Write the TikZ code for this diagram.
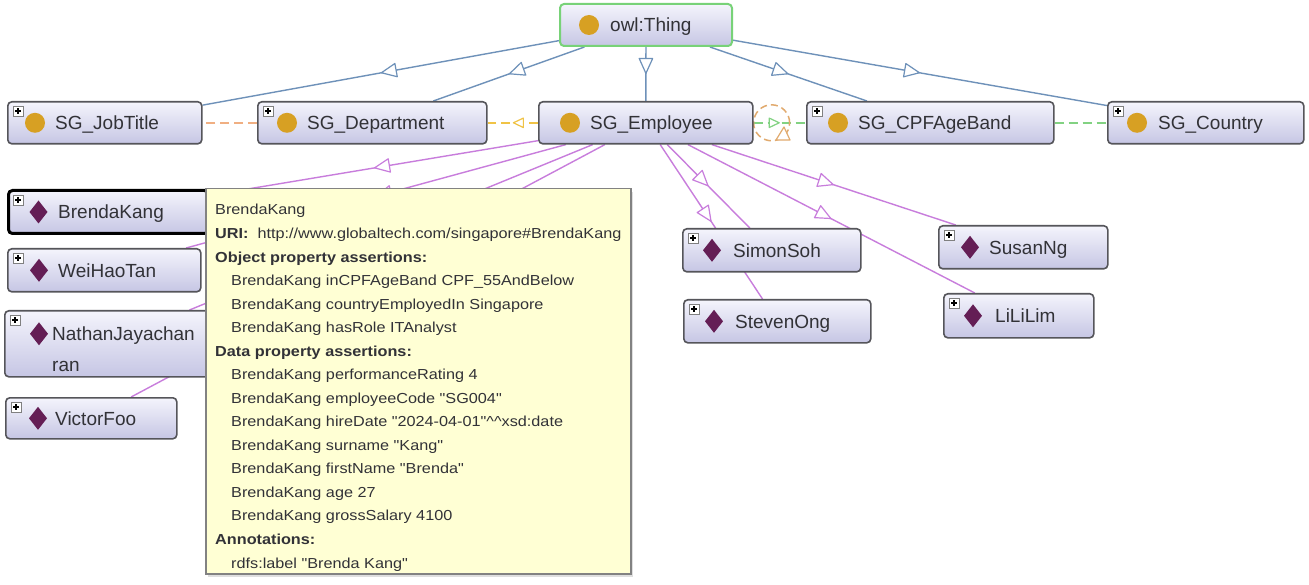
\documentclass[tikz,border=0pt]{standalone}
\usepackage{fontspec}
\setmainfont{Liberation Sans}
\newfontfamily\tipfont{Liberation Sans}[FakeStretch=1.12]
\usetikzlibrary{arrows.meta,decorations.markings,backgrounds,shadows}

\definecolor{edgeblue}{RGB}{110,145,185}
\definecolor{edgepurple}{RGB}{200,125,220}
\definecolor{dashorange}{RGB}{240,175,130}
\definecolor{dashyellow}{RGB}{240,195,70}
\definecolor{dashgreen}{RGB}{130,210,130}
\definecolor{loopbrown}{RGB}{225,170,110}
\definecolor{nodeborder}{RGB}{85,85,90}
\definecolor{nodetop}{RGB}{244,244,252}
\definecolor{nodebot}{RGB}{198,198,228}
\definecolor{thinggreen}{RGB}{120,210,120}
\definecolor{classdot}{RGB}{215,160,35}
\definecolor{indiv}{RGB}{100,30,85}
\definecolor{tipfill}{RGB}{255,255,212}
\definecolor{tipborder}{RGB}{130,130,130}
\definecolor{txt}{RGB}{50,50,55}

\begin{document}
\begin{tikzpicture}[x=1pt,y=-1pt,
  box/.style={draw=nodeborder, line width=1.6pt, rounded corners=4pt, top color=nodetop, bottom color=nodebot, inner sep=0pt, anchor=north west},
  thingbox/.style={box, draw=thinggreen, line width=2pt},
  selbox/.style={box, draw=black, line width=3pt},
  lbl/.style={font=\fontsize{19}{22}\selectfont, text=txt, inner sep=0pt, anchor=base west},
  tipbox/.style={draw=tipborder, line width=1.5pt, fill=tipfill, inner sep=0pt, anchor=north west, drop shadow={shadow xshift=2pt, shadow yshift=-3pt, opacity=0.25}},
  tipline/.style={font=\tipfont\fontsize{14.5}{17}\selectfont, text=txt, inner sep=0pt, anchor=base west},
  midtri/.style={postaction={decorate}, decoration={markings, mark=at position 0.5 with {\arrow{Triangle[length=17pt,width=15pt,fill=white,line width=1.2pt,round]}}}},
  smalltri/.style={postaction={decorate}, decoration={markings, mark=at position 0.5 with {\arrow{Triangle[length=12pt,width=11pt,fill=white,line width=1.2pt,round]}}}},
  subedge/.style={draw=edgeblue, line width=1.4pt, midtri},
  typeedge/.style={draw=edgepurple, line width=1.4pt, midtri},
  propdash/.style={line width=1.6pt, dash pattern=on 9pt off 5pt},
  plusicon/.pic={\draw[fill=white, draw=gray, line width=0.7pt] (0,0) rectangle (10,10);
                 \draw[black, line width=1.1pt] (2.2,5) -- (7.8,5) (5,2.2) -- (5,7.8);},
  indivmark/.pic={\fill[indiv] (0,-11.5) -- (9,0) -- (0,11.5) -- (-9,0) -- cycle;}
]
\useasboundingbox (0,0) rectangle (1309,585);

% ---------- classes ----------
\node[thingbox, minimum width=172pt, minimum height=42pt] (thing) at (559,3) {};
\fill[classdot] ([xshift=30pt]thing.west) circle[radius=10pt];
\node[lbl] (thing-l) at ([xshift=51pt,yshift=-6.8pt]thing.west) {owl:Thing};

\node[box, minimum width=194pt, minimum height=42pt] (job) at (7,101) {};
\pic at ([xshift=6pt,yshift=-5pt]job.north west) {plusicon};
\fill[classdot] ([xshift=28pt]job.west) circle[radius=10pt];
\node[lbl] (job-l) at ([xshift=48pt,yshift=-6.8pt]job.west) {SG\_JobTitle};

\node[box, minimum width=229pt, minimum height=42pt] (dept) at (257,101) {};
\pic at ([xshift=6pt,yshift=-5pt]dept.north west) {plusicon};
\fill[classdot] ([xshift=30pt]dept.west) circle[radius=10pt];
\node[lbl] (dept-l) at ([xshift=50pt,yshift=-6.8pt]dept.west) {SG\_Department};

\node[box, minimum width=214pt, minimum height=42pt] (emp) at (538,101) {};
\fill[classdot] ([xshift=32pt]emp.west) circle[radius=10pt];
\node[lbl] (emp-l) at ([xshift=52pt,yshift=-6.8pt]emp.west) {SG\_Employee};

\node[box, minimum width=247pt, minimum height=42pt] (cpf) at (806,101) {};
\pic at ([xshift=6pt,yshift=-5pt]cpf.north west) {plusicon};
\fill[classdot] ([xshift=32pt]cpf.west) circle[radius=10pt];
\node[lbl] (cpf-l) at ([xshift=52pt,yshift=-6.8pt]cpf.west) {SG\_CPFAgeBand};

\node[box, minimum width=196pt, minimum height=42pt] (country) at (1107,101) {};
\pic at ([xshift=6pt,yshift=-5pt]country.north west) {plusicon};
\fill[classdot] ([xshift=30pt]country.west) circle[radius=10pt];
\node[lbl] (country-l) at ([xshift=51pt,yshift=-6.8pt]country.west) {SG\_Country};

% ---------- individuals ----------
\node[selbox, minimum width=200pt, minimum height=43pt] (brenda) at (7,189) {};
\pic at ([xshift=6pt,yshift=-6pt]brenda.north west) {plusicon};
\pic at ([xshift=31.5pt]brenda.west) {indivmark};
\node[lbl] (brenda-l) at ([xshift=51pt,yshift=-6.8pt]brenda.west) {BrendaKang};

\node[box, minimum width=193pt, minimum height=43pt] (weihao) at (7,248) {};
\pic at ([xshift=6pt,yshift=-5pt]weihao.north west) {plusicon};
\pic at ([xshift=32pt]weihao.west) {indivmark};
\node[lbl] (weihao-l) at ([xshift=51pt,yshift=-6.8pt]weihao.west) {WeiHaoTan};

\node[box, minimum width=205pt, minimum height=66pt] (nathan) at (4,310) {};
\pic at ([xshift=6pt,yshift=-5pt]nathan.north west) {plusicon};
\pic at ([xshift=35pt,yshift=10pt]nathan.west) {indivmark};
\node[lbl] (nathan-l1) at ([xshift=48pt,yshift=3pt]nathan.west) {NathanJayachan};
\node[lbl] (nathan-l2) at ([xshift=48pt,yshift=-28pt]nathan.west) {ran};

\node[box, minimum width=171pt, minimum height=41pt] (victor) at (5,397) {};
\pic at ([xshift=6pt,yshift=-5pt]victor.north west) {plusicon};
\pic at ([xshift=33pt]victor.west) {indivmark};
\node[lbl] (victor-l) at ([xshift=50pt,yshift=-6.8pt]victor.west) {VictorFoo};

\node[box, minimum width=178pt, minimum height=43pt] (simon) at (682,228) {};
\pic at ([xshift=6pt,yshift=-5pt]simon.north west) {plusicon};
\pic at ([xshift=30pt]simon.west) {indivmark};
\node[lbl] (simon-l) at ([xshift=51pt,yshift=-6.8pt]simon.west) {SimonSoh};

\node[box, minimum width=187pt, minimum height=43pt] (steven) at (683,299) {};
\pic at ([xshift=6pt,yshift=-5pt]steven.north west) {plusicon};
\pic at ([xshift=31pt]steven.west) {indivmark};
\node[lbl] (steven-l) at ([xshift=52pt,yshift=-6.8pt]steven.west) {StevenOng};

\node[box, minimum width=169pt, minimum height=43pt] (susan) at (938,225) {};
\pic at ([xshift=6pt,yshift=-5pt]susan.north west) {plusicon};
\pic at ([xshift=32pt]susan.west) {indivmark};
\node[lbl] (susan-l) at ([xshift=51pt,yshift=-6.8pt]susan.west) {SusanNg};

\node[box, minimum width=150pt, minimum height=44pt] (lili) at (943,293) {};
\pic at ([xshift=6pt,yshift=-5pt]lili.north west) {plusicon};
\pic at ([xshift=30pt]lili.west) {indivmark};
\node[lbl] (lili-l) at ([xshift=52pt,yshift=-6.8pt]lili.west) {LiLiLim};

% ---------- connectors (behind the boxes) ----------
\begin{scope}[on background layer]
  \fill[white] (0,0) rectangle (1309,585);
  \draw[subedge] (thing) -- (job);
  \draw[subedge] (thing) -- (dept);
  \draw[subedge] (thing) -- (emp);
  \draw[subedge] (thing) -- (cpf);
  \draw[subedge] (thing) -- (country);

  \draw[typeedge] (emp) -- (brenda);
  \draw[typeedge] (emp) -- (weihao);
  \draw[typeedge] (emp) -- (nathan);
  \draw[typeedge] (emp) -- (victor);
  \draw[typeedge] (emp) -- (simon);
  \draw[typeedge] (emp) -- (steven);
  \draw[typeedge] (emp) -- (susan);
  \draw[typeedge] (emp) -- (lili);

  \draw[dashorange, propdash] (dept) -- (job);
  \draw[dashyellow, propdash, smalltri] (emp) -- (dept);
  \draw[dashgreen, propdash, smalltri] (emp) -- (cpf);
  \draw[dashgreen, propdash] (cpf) -- (country);
  \draw[loopbrown, line width=1.5pt, dash pattern=on 7pt off 4pt] ([xshift=18pt]emp.east) circle[radius=18pt];
  \draw[loopbrown, fill=white, line width=1.2pt, line join=round] (776,140) -- (790,140) -- (784,127) -- cycle;
\end{scope}

% ---------- tooltip ----------
\node[tipbox, minimum width=425pt, minimum height=385pt] (tip) at (205,188) {};
\node[tipline] (t01) at (215,215.0) {BrendaKang};
\node[tipline] (t02) at (215,238.5) {\textbf{URI:}\ \ http://www.globaltech.com/singapore\#BrendaKang};
\node[tipline] (t03) at (215,262.1) {\textbf{Object property assertions:}};
\node[tipline] (t04) at (231,285.6) {BrendaKang inCPFAgeBand CPF\_55AndBelow};
\node[tipline] (t05) at (231,309.1) {BrendaKang countryEmployedIn Singapore};
\node[tipline] (t06) at (231,332.7) {BrendaKang hasRole ITAnalyst};
\node[tipline] (t07) at (215,356.2) {\textbf{Data property assertions:}};
\node[tipline] (t08) at (231,379.7) {BrendaKang performanceRating 4};
\node[tipline] (t09) at (231,403.2) {BrendaKang employeeCode "SG004"};
\node[tipline] (t10) at (231,426.8) {BrendaKang hireDate "2024-04-01"\textasciicircum\textasciicircum xsd:date};
\node[tipline] (t11) at (231,450.3) {BrendaKang surname "Kang"};
\node[tipline] (t12) at (231,473.8) {BrendaKang firstName "Brenda"};
\node[tipline] (t13) at (231,497.4) {BrendaKang age 27};
\node[tipline] (t14) at (231,520.9) {BrendaKang grossSalary 4100};
\node[tipline] (t15) at (215,544.4) {\textbf{Annotations:}};
\node[tipline] (t16) at (231,568.0) {rdfs:label "Brenda Kang"};
\end{tikzpicture}
\end{document}
